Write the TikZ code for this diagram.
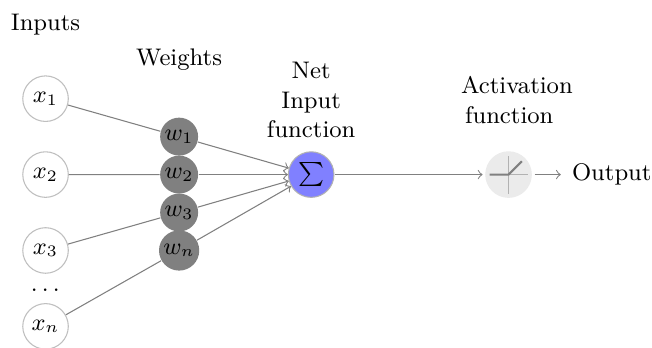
\documentclass[tikz,border=0pt]{standalone}
\usepackage{amsmath,amssymb}
\usetikzlibrary{positioning}
\newcommand{\picfont}{\fontsize{9pt}{11.1pt}\selectfont}
\tikzset{
  every node/.style={font=\picfont},
  innode/.style={circle, draw=black!25, fill=white, minimum size=0.6cm, inner sep=0pt},
  weightnode/.style={circle, fill=black!50, minimum size=0.5cm, inner sep=0pt},
  sumnode/.style={circle, draw=black!30, fill=blue!50, minimum size=0.6cm, inner sep=0pt},
  actnode/.style={circle, draw=black!8, fill=black!8, minimum size=0.6cm, inner sep=0pt, outer sep=1.2pt},
  link/.style={draw=black!50},
  arrow/.style={->, draw=black!50},
  caption/.style={align=center, inner sep=0pt},
}

\begin{document}
\begin{tikzpicture}[node distance=1cm, on grid]
\useasboundingbox (0,0) rectangle (8.59,-4.572);
\node[innode] (x1) at (0.6,-1.3) {$x_1$};
\node[innode, below=of x1] (x2) {$x_2$};
\node[innode, below=of x2] (x3) {$x_3$};
\node[innode, below=of x3] (xn) {$x_n$};
\node[below=0.5cm of x3, xshift=0.7pt, yshift=-0.7pt] (dots) {$\dots$};
\node[weightnode] (w1) at (2.36,-1.8) {$w_1$};
\node[weightnode, below=0.5cm of w1] (w2) {$w_2$};
\node[weightnode, below=0.5cm of w2] (w3) {$w_3$};
\node[weightnode, below=0.5cm of w3, minimum size=0.53cm] (wn) {$w_n$};
\node[sumnode, right=1.74cm of w2] (sum) {$\sum$};
\node[actnode, right=2.6cm of sum] (act) {};
\node[right=1.36cm of act, inner sep=4pt] (out) {Output};
% labels
\node[caption, above=0.97cm of x1] (lblin) {Inputs};
\node[caption] (lblw) at (2.36,-0.79) {Weights};
\node[caption] (lblnet) at (4.1,-1.32) {Net\\Input\\function};
\node[caption, align=left] (lblact) at (6.81,-1.32) {Activation\\\hspace*{1.5pt}function};
\foreach \a/\b in {x1/w1, x2/w2, x3/w3, xn/wn}
  \draw[link] (\a) -- (\b);
\foreach \a in {w1, w2, w3, wn}
  \draw[arrow] (\a) -- (sum);
\draw[arrow] (sum) -- (act);
\draw[arrow] (act) -- (out);
% activation curve
\draw[black!30] ([yshift=-0.25cm]act.center) -- ([yshift=0.25cm]act.center);
\draw[black!30] (act.center) -- ([xshift=0.25cm]act.center);
\draw[black!50, thick] ([xshift=-0.25cm]act.center) -- (act.center) -- ([xshift=0.175cm,yshift=0.175cm]act.center);
\end{tikzpicture}
\end{document}
